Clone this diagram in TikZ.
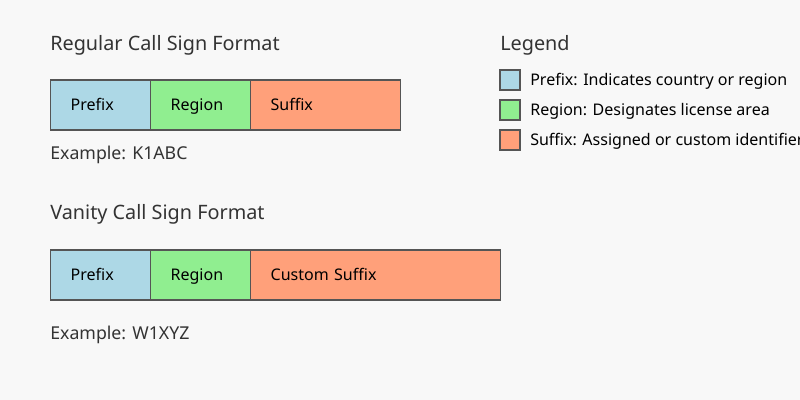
\documentclass[tikz,border=0pt]{standalone}
\usepackage{fontspec}
\setmainfont{Noto Sans}
\usetikzlibrary{positioning}
\definecolor{bgcolor}{HTML}{F8F8F8}
\definecolor{textcolor}{HTML}{333333}
\definecolor{edgecolor}{HTML}{555555}
\definecolor{prefixcolor}{HTML}{ADD8E6}
\definecolor{regioncolor}{HTML}{90EE90}
\definecolor{suffixcolor}{HTML}{FFA07A}

\begin{document}
\begin{tikzpicture}[
  seg/.style={
    draw=edgecolor,
    line width=0.9pt,
    fill=#1,
    minimum height=1.25cm,
    inner xsep=0.5cm,
    inner ysep=0pt,
    text height=0.714em,
    text depth=0pt,
    align=left,
    anchor=west,
    font=\fontsize{11.4}{13}\selectfont
  },
  heading/.style={
    anchor=base west,
    inner sep=0pt,
    text=textcolor,
    font=\fontsize{14.1}{17}\selectfont
  },
  sample/.style={
    anchor=base west,
    inner sep=0pt,
    text=textcolor,
    font=\fontsize{12.6}{15}\selectfont
  },
  key/.style={
    draw=edgecolor,
    line width=0.9pt,
    fill=#1,
    minimum size=0.5cm,
    inner sep=0pt
  },
  keytext/.style={
    anchor=west,
    inner sep=0pt,
    text height=0.714em,
    text depth=0pt,
    font=\fontsize{11.4}{13}\selectfont
  }
]

% -------- Background --------
\fill[bgcolor] (0,0) rectangle (20,10);
\useasboundingbox (0,0) rectangle (20,10);

% -------- Regular format --------
\node[heading] (regtitle) at (1.25, 8.725) {Regular Call Sign Format};

\node[seg=prefixcolor, text width=1.5cm]  (regprefix) at (1.25, 7.375) {Prefix};
\node[seg=regioncolor, text width=1.5cm]  (regregion) at (3.75, 7.375) {Region};
\node[seg=suffixcolor, text width=2.75cm] (regsuffix) at (6.25, 7.375) {Suffix};

\node[sample] (regexample) at (1.25, 6.0) {Example: K1ABC};

% -------- Vanity format --------
\node[heading] (vantitle) at (1.25, 4.5) {Vanity Call Sign Format};

\node[seg=prefixcolor, text width=1.5cm]  (vanprefix) at (1.25, 3.125) {Prefix};
\node[seg=regioncolor, text width=1.5cm]  (vanregion) at (3.75, 3.125) {Region};
\node[seg=suffixcolor, text width=5.25cm] (vansuffix) at (6.25, 3.125) {Custom Suffix};

\node[sample] (vanexample) at (1.25, 1.5) {Example: W1XYZ};

% -------- Legend --------
\node[heading] (legtitle) at (12.5, 8.725) {Legend};

\node[key=prefixcolor] (keyprefix) at (12.75, 8.0)  {};
\node[key=regioncolor] (keyregion) at (12.75, 7.25) {};
\node[key=suffixcolor] (keysuffix) at (12.75, 6.5)  {};

\node[keytext] (txtprefix) at (13.25, 8.0)  {Prefix: Indicates country or region};
\node[keytext] (txtregion) at (13.25, 7.25) {Region: Designates license area};
\node[keytext] (txtsuffix) at (13.25, 6.5)  {Suffix: Assigned or custom identifier};

\end{tikzpicture}
\end{document}
